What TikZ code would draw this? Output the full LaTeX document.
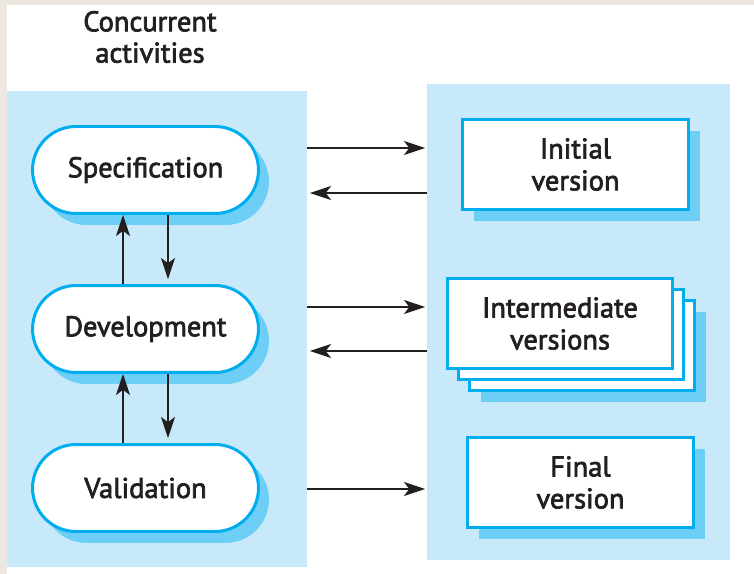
\documentclass[tikz,border=0pt]{standalone}
\usepackage{fontspec}
\setmainfont{PT Sans}
\newfontfamily\semibf{PT Sans}[FakeBold=2.4]
\usetikzlibrary{positioning,shadows,arrows.meta,calc}

\definecolor{panelblue}{RGB}{199,233,250}
\definecolor{edgeblue}{RGB}{0,174,239}
\definecolor{shadeblue}{RGB}{109,207,246}
\definecolor{inkgrey}{RGB}{35,31,32}
\definecolor{paper}{RGB}{236,232,223}

\tikzset{
	panel/.style={rectangle, fill=panelblue, draw=none, inner sep=0pt, outer sep=0pt},
	activity/.style={rectangle, rounded corners=0.87cm, draw=edgeblue, line width=1.7pt, fill=white,
		minimum width=4.52cm, minimum height=1.74cm, text=inkgrey,
		font=\semibf\fontsize{16.2}{18}\selectfont,
		general shadow={shadow xshift=0.21cm, shadow yshift=-0.23cm, fill=shadeblue}},
	version/.style={rectangle, draw=edgeblue, line width=1.7pt, fill=white,
		minimum width=4.52cm, minimum height=1.8cm, align=center, text=inkgrey,
		font=\semibf\fontsize{16.2}{18.2}\selectfont},
	shaded/.style={general shadow={shadow xshift=0.23cm, shadow yshift=-0.23cm, fill=shadeblue}},
	flow/.style={-{Stealth[length=12pt,width=8pt,inset=3pt]}, line width=0.7pt, draw=inkgrey}
}

\begin{document}
\begin{tikzpicture}[x=0.02cm, y=-0.02cm]
	\useasboundingbox (0,0) rectangle (754,574);
	\fill[paper] (0,0) rectangle (754,574);
	\fill[white] (7,5) rectangle (754,574);
	
	% the two panels
	\node[panel, minimum width=6cm, minimum height=9.52cm] (lpanel) at (157,329) {};
	\node[panel, minimum width=6.06cm, minimum height=9.52cm] (rpanel) at (578.5,322) {};
	\node[align=center, text=inkgrey, font=\semibf\fontsize{16.2}{17.8}\selectfont] (title) at (150,37) {Concurrent\\activities};
	
	% activities
	\node[activity] (spec) at (145.5,170) {Specification};
	\node[activity] (dev) at (145.5,329) {Development};
	\node[activity] (val) at (145.5,488) {Validation};
	
	% versions
	\node[version, shaded] (init) at (575.5,164.5) {Initial\\version};
	\node[version, shaded] (mid3) at (582,345.5) {};
	\node[version] (mid2) at (571,334.5) {};
	\node[version] (mid) at (560,323.5) {Intermediate\\versions};
	\node[version, shaded] (final) at (580.5,482.5) {Final\\version};
	
	% arrows between activities
	\draw[flow] ([xshift=-0.45cm]val.north) -- ([xshift=-0.45cm]dev.south);
	\draw[flow] ([xshift=0.45cm]dev.south) -- ([xshift=0.45cm,yshift=0.1cm]val.north);
	\draw[flow] ([xshift=-0.45cm]dev.north) -- ([xshift=-0.45cm]spec.south);
	\draw[flow] ([xshift=0.45cm]spec.south) -- ([xshift=0.45cm,yshift=0.1cm]dev.north);
	
	% arrows between panels
	\draw[flow] ($(spec.center -| lpanel.east)+(0,-22)$) -- ($(spec.center -| rpanel.west)+(-2,-22)$);
	\draw[flow] ($(spec.center -| rpanel.west)+(0,23)$) -- ($(spec.center -| lpanel.east)+(3,23)$);
	\draw[flow] ($(dev.center -| lpanel.east)+(0,-22)$) -- ($(dev.center -| rpanel.west)+(-2,-22)$);
	\draw[flow] ($(dev.center -| rpanel.west)+(0,22)$) -- ($(dev.center -| lpanel.east)+(3,22)$);
	\draw[flow] ($(val.center -| lpanel.east)+(0,1)$) -- ($(val.center -| rpanel.west)+(-2,1)$);
\end{tikzpicture}
\end{document}
